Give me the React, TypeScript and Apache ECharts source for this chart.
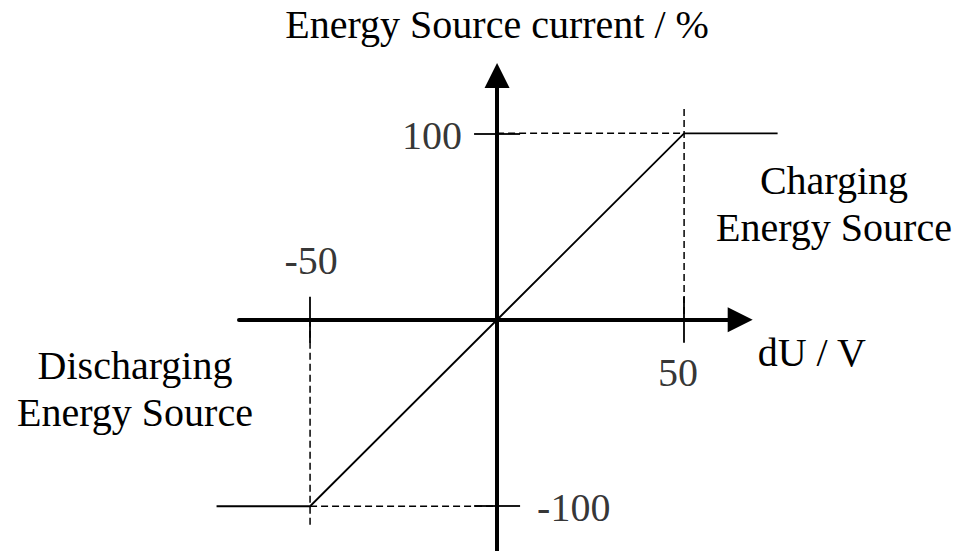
import React, { useEffect, useRef } from "react";
import * as echarts from "echarts";

// ---- data ----
const curveX = [-75, -50, 50, 75];
const curveY = [-100, -100, 100, 100];
const xTickValues = [-50, 50];
const yTickValues = [-100, 100];
const xLabelsBelow = [50];
const xLabelsAbove = [-50];
const yLabelsLeft = [100];
const yLabelsRight = [-100];
const guideUpperH = [[0, 100], [50, 100]];
const guideUpperV = [[50, 113], [50, 0]];
const guideLowerH = [[-50, -100], [0, -100]];
const guideLowerV = [[-50, 0], [-50, -112]];
const xRange = [-69, 65];
const yRange = [-124, 131];
const xName = "dU / V";
const yName = "Energy Source current / %";
const chargingText = ["Charging", "Energy Source"];
const dischargingText = ["Discharging", "Energy Source"];

const FONT = '"Liberation Serif", "Times New Roman", serif';
const FS = 40;

export default function App() {
  const ref = useRef<HTMLDivElement>(null);
  useEffect(() => {
    if (!ref.current) return;
    const chart = echarts.init(ref.current, undefined, { renderer: "svg" });
    const txt = { color: "#000", fontSize: FS, fontFamily: FONT };
    const tick = (vals: number[]) => ({
      show: true,
      customValues: vals,
      length: 23,
      inside: false,
      lineStyle: { color: "#000", width: 1.8 },
    });
    const mainLine = {
      show: true,
      onZero: true,
      symbol: ["none", "triangle"],
      symbolSize: [25, 25],
      lineStyle: { color: "#000", width: 4 },
    };
    const hiddenLine = { show: false, onZero: true };
    const guide = (data: number[][]) => ({
      type: "line",
      data,
      xAxisIndex: 0,
      yAxisIndex: 0,
      symbol: "none",
      clip: false,
      silent: true,
      z: 1,
      lineStyle: { color: "#000", width: 1.5, type: [7, 4] },
    });
    const tickLabel = (
      pts: number[][],
      offset: number[],
      align: string,
      value: (p: number[]) => number
    ) => ({
      type: "scatter",
      xAxisIndex: 0,
      yAxisIndex: 0,
      data: pts,
      symbolSize: 0,
      silent: true,
      clip: false,
      z: 4,
      itemStyle: { color: "#000" },
      label: {
        show: true,
        position: "inside",
        offset,
        align,
        verticalAlign: "middle",
        textBorderWidth: 0,
        textBorderColor: "transparent",
        formatter: (p: any) => String(value(p.value)),
        ...txt,
      },
    });
    const curvePoints = curveX.map((x, i) => [x, curveY[i]]);
    chart.setOption({
      animation: false,
      backgroundColor: "#fff",
      grid: {
        left: 239,
        right: 220.8,
        top: 75.5,
        bottom: 0,
        containLabel: false,
        outerBoundsMode: "none",
      },
      xAxis: [
        {
          type: "value",
          position: "bottom",
          min: xRange[0],
          max: xRange[1],
          axisLine: mainLine,
          axisTick: tick(xTickValues),
          axisLabel: { show: false },
          splitLine: { show: false },
          name: xName,
          nameLocation: "end",
          nameGap: 17.5,
          nameTextStyle: { ...txt, verticalAlign: "top", lineHeight: 66 },
        },
        {
          type: "value",
          position: "top",
          min: xRange[0],
          max: xRange[1],
          axisLine: hiddenLine,
          axisTick: tick(xTickValues),
          axisLabel: { show: false },
          splitLine: { show: false },
        },
      ],
      yAxis: [
        {
          type: "value",
          position: "left",
          min: yRange[0],
          max: yRange[1],
          axisLine: mainLine,
          axisTick: tick(yTickValues),
          axisLabel: { show: false },
          splitLine: { show: false },
          name: yName,
          nameLocation: "end",
          nameGap: 31,
          nameTextStyle: { ...txt },
        },
        {
          type: "value",
          position: "right",
          min: yRange[0],
          max: yRange[1],
          axisLine: hiddenLine,
          axisTick: tick(yTickValues),
          axisLabel: { show: false },
          splitLine: { show: false },
        },
      ],
      graphic: [
        {
          type: "text",
          x: 834,
          y: 203.5,
          silent: true,
          style: {
            text: chargingText.join("\n"),
            fill: "#000",
            font: `${FS}px ${FONT}`,
            lineHeight: 47,
            textAlign: "center",
            textVerticalAlign: "middle",
          },
        },
        {
          type: "text",
          x: 135,
          y: 389,
          silent: true,
          style: {
            text: dischargingText.join("\n"),
            fill: "#000",
            font: `${FS}px ${FONT}`,
            lineHeight: 47,
            textAlign: "center",
            textVerticalAlign: "middle",
          },
        },
      ],
      series: [
        guide(guideUpperH),
        guide(guideUpperV),
        guide(guideLowerH),
        guide(guideLowerV),
        {
          type: "custom",
          xAxisIndex: 0,
          yAxisIndex: 0,
          data: curvePoints,
          encode: { x: 0, y: 1 },
          clip: false,
          silent: true,
          z: 3,
          renderItem: (params: any, api: any) => {
            if (params.dataIndex !== 0) return null;
            return {
              type: "polyline",
              shape: { points: curvePoints.map((p) => api.coord(p)) },
              style: { stroke: "#000", lineWidth: 1.8, fill: "none", lineJoin: "miter" },
            };
          },
        },
        tickLabel(xLabelsBelow.map((v) => [v, 0]), [-6, 53], "center", (p) => p[0]),
        tickLabel(xLabelsAbove.map((v) => [v, 0]), [1, -59.5], "center", (p) => p[0]),
        tickLabel(yLabelsLeft.map((v) => [0, v]), [-35, 2], "right", (p) => p[1]),
        tickLabel(yLabelsRight.map((v) => [0, v]), [40, 1], "left", (p) => p[1]),
      ],
    });
    return () => chart.dispose();
  }, []);
  return (
    <div
      ref={ref}
      style={{ position: "fixed", left: 0, top: 0, width: 961, height: 551, background: "#fff" }}
    />
  );
}
